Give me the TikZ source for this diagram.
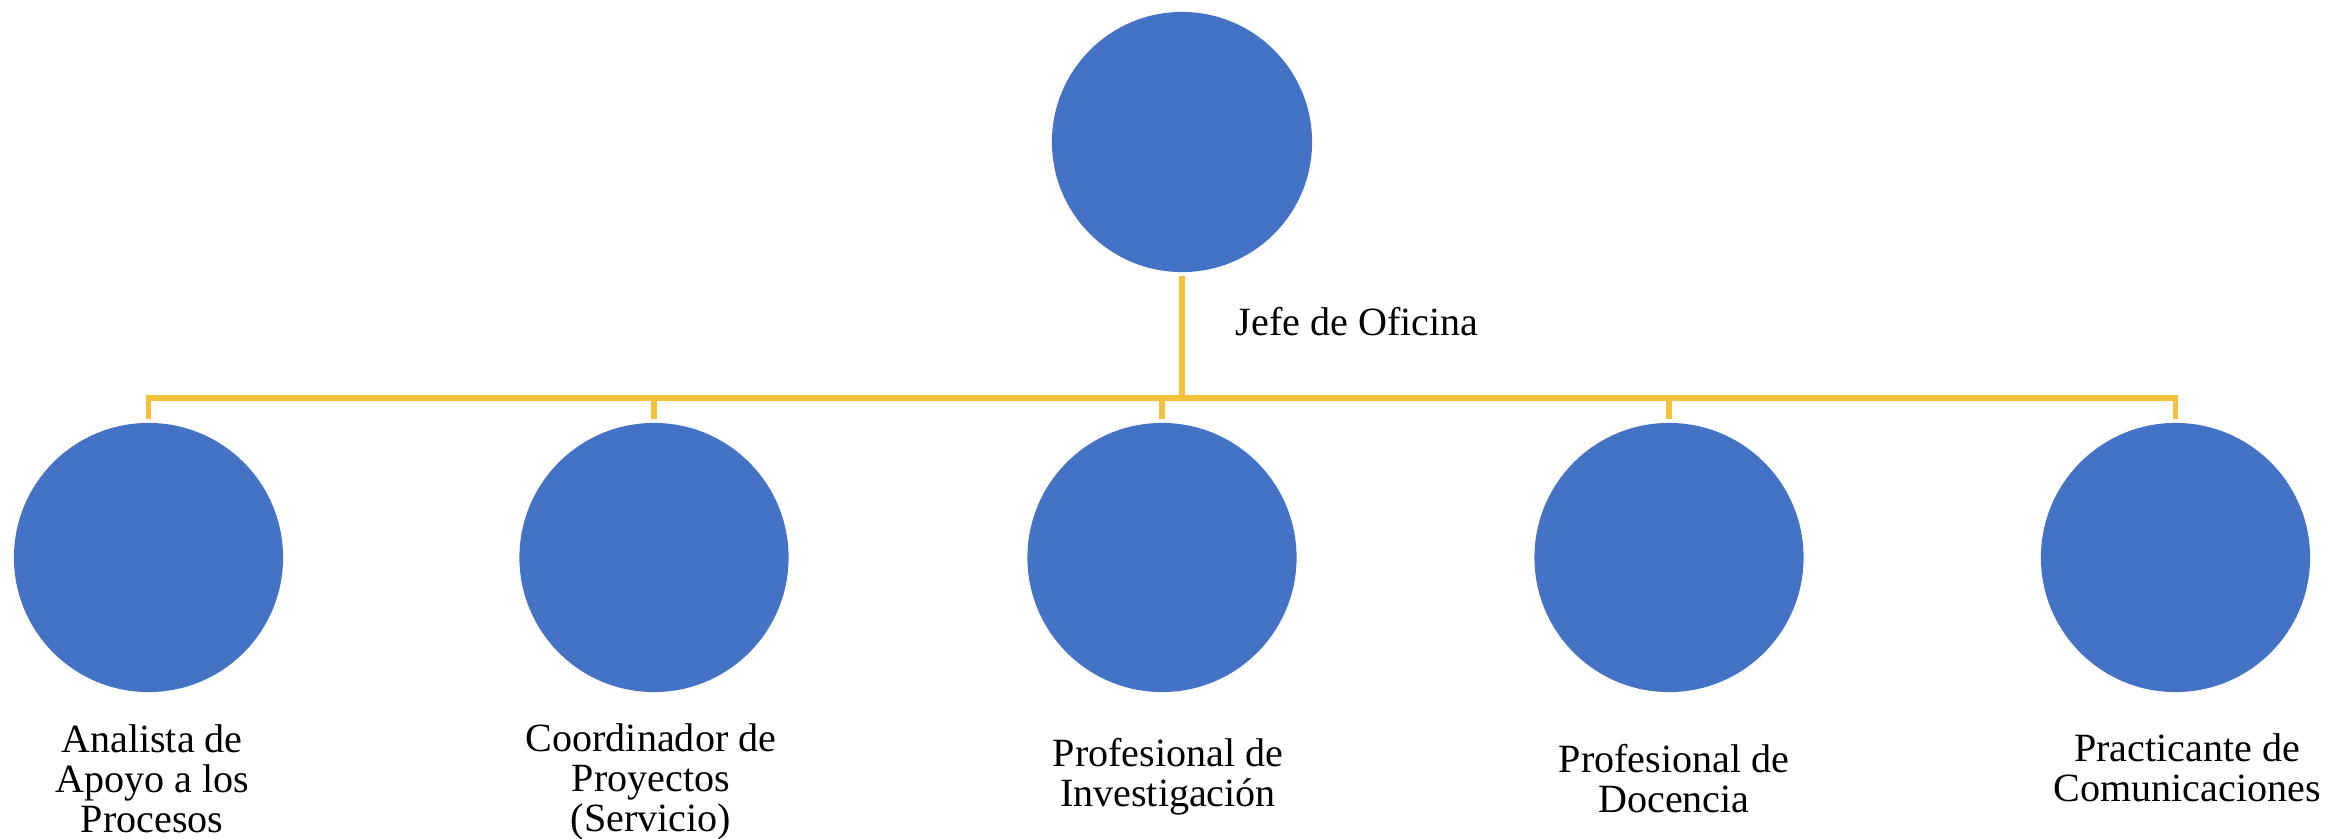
\documentclass[tikz,border=0pt]{standalone}
\usepackage{fontspec}
\setmainfont{Liberation Serif}
\definecolor{nodeblue}{HTML}{4472C4}
\definecolor{linegold}{HTML}{F6C13A}
\begin{document}
\begin{tikzpicture}[x=0.01cm,y=-0.01cm,
  topcirc/.style={circle,fill=nodeblue,draw=none,minimum size=2.6cm,inner sep=0pt,outer sep=0.04cm},
  subcirc/.style={circle,fill=nodeblue,draw=none,minimum size=2.69cm,inner sep=0pt,outer sep=0.04cm},
  conn/.style={draw=linegold,line width=0.058cm},
  lbl/.style={align=center,anchor=base,inner sep=0pt,font=\fontsize{11.4pt}{11.25pt}\selectfont}]
\useasboundingbox[fill=white] (0,0) rectangle (2326,839);
\node[topcirc] (top) at (1182,142) {};
\node[subcirc] (c1) at (148.5,557.5) {};
\node[subcirc] (c2) at (654,557.5) {};
\node[subcirc] (c3) at (1162,557.5) {};
\node[subcirc] (c4) at (1669,557.5) {};
\node[subcirc] (c5) at (2175.5,557.5) {};
\coordinate (bar) at (1182,398);
\draw[conn] (top.south) -- (top.south |- bar);
\draw[conn] (c1.north) |- (c5.north |- bar) -- (c5.north);
\draw[conn] (c2.north) -- (c2.north |- bar);
\draw[conn] (c3.north) -- (c3.north |- bar);
\draw[conn] (c4.north) -- (c4.north |- bar);
\node[lbl,anchor=base west] (ltop) at (1235,335) {Jefe de Oficina};
\node[lbl] (l1) at (152,832) {Analista de\\Apoyo a los\\Procesos};
\node[lbl] (l2) at (651,831) {Coordinador de\\Proyectos\\(Servicio)};
\node[lbl] (l3) at (1168,806) {Profesional de\\Investigación};
\node[lbl] (l4) at (1674,812) {Profesional de\\Docencia};
\node[lbl] (l5) at (2187,801) {Practicante de\\Comunicaciones};
\end{tikzpicture}
\end{document}
